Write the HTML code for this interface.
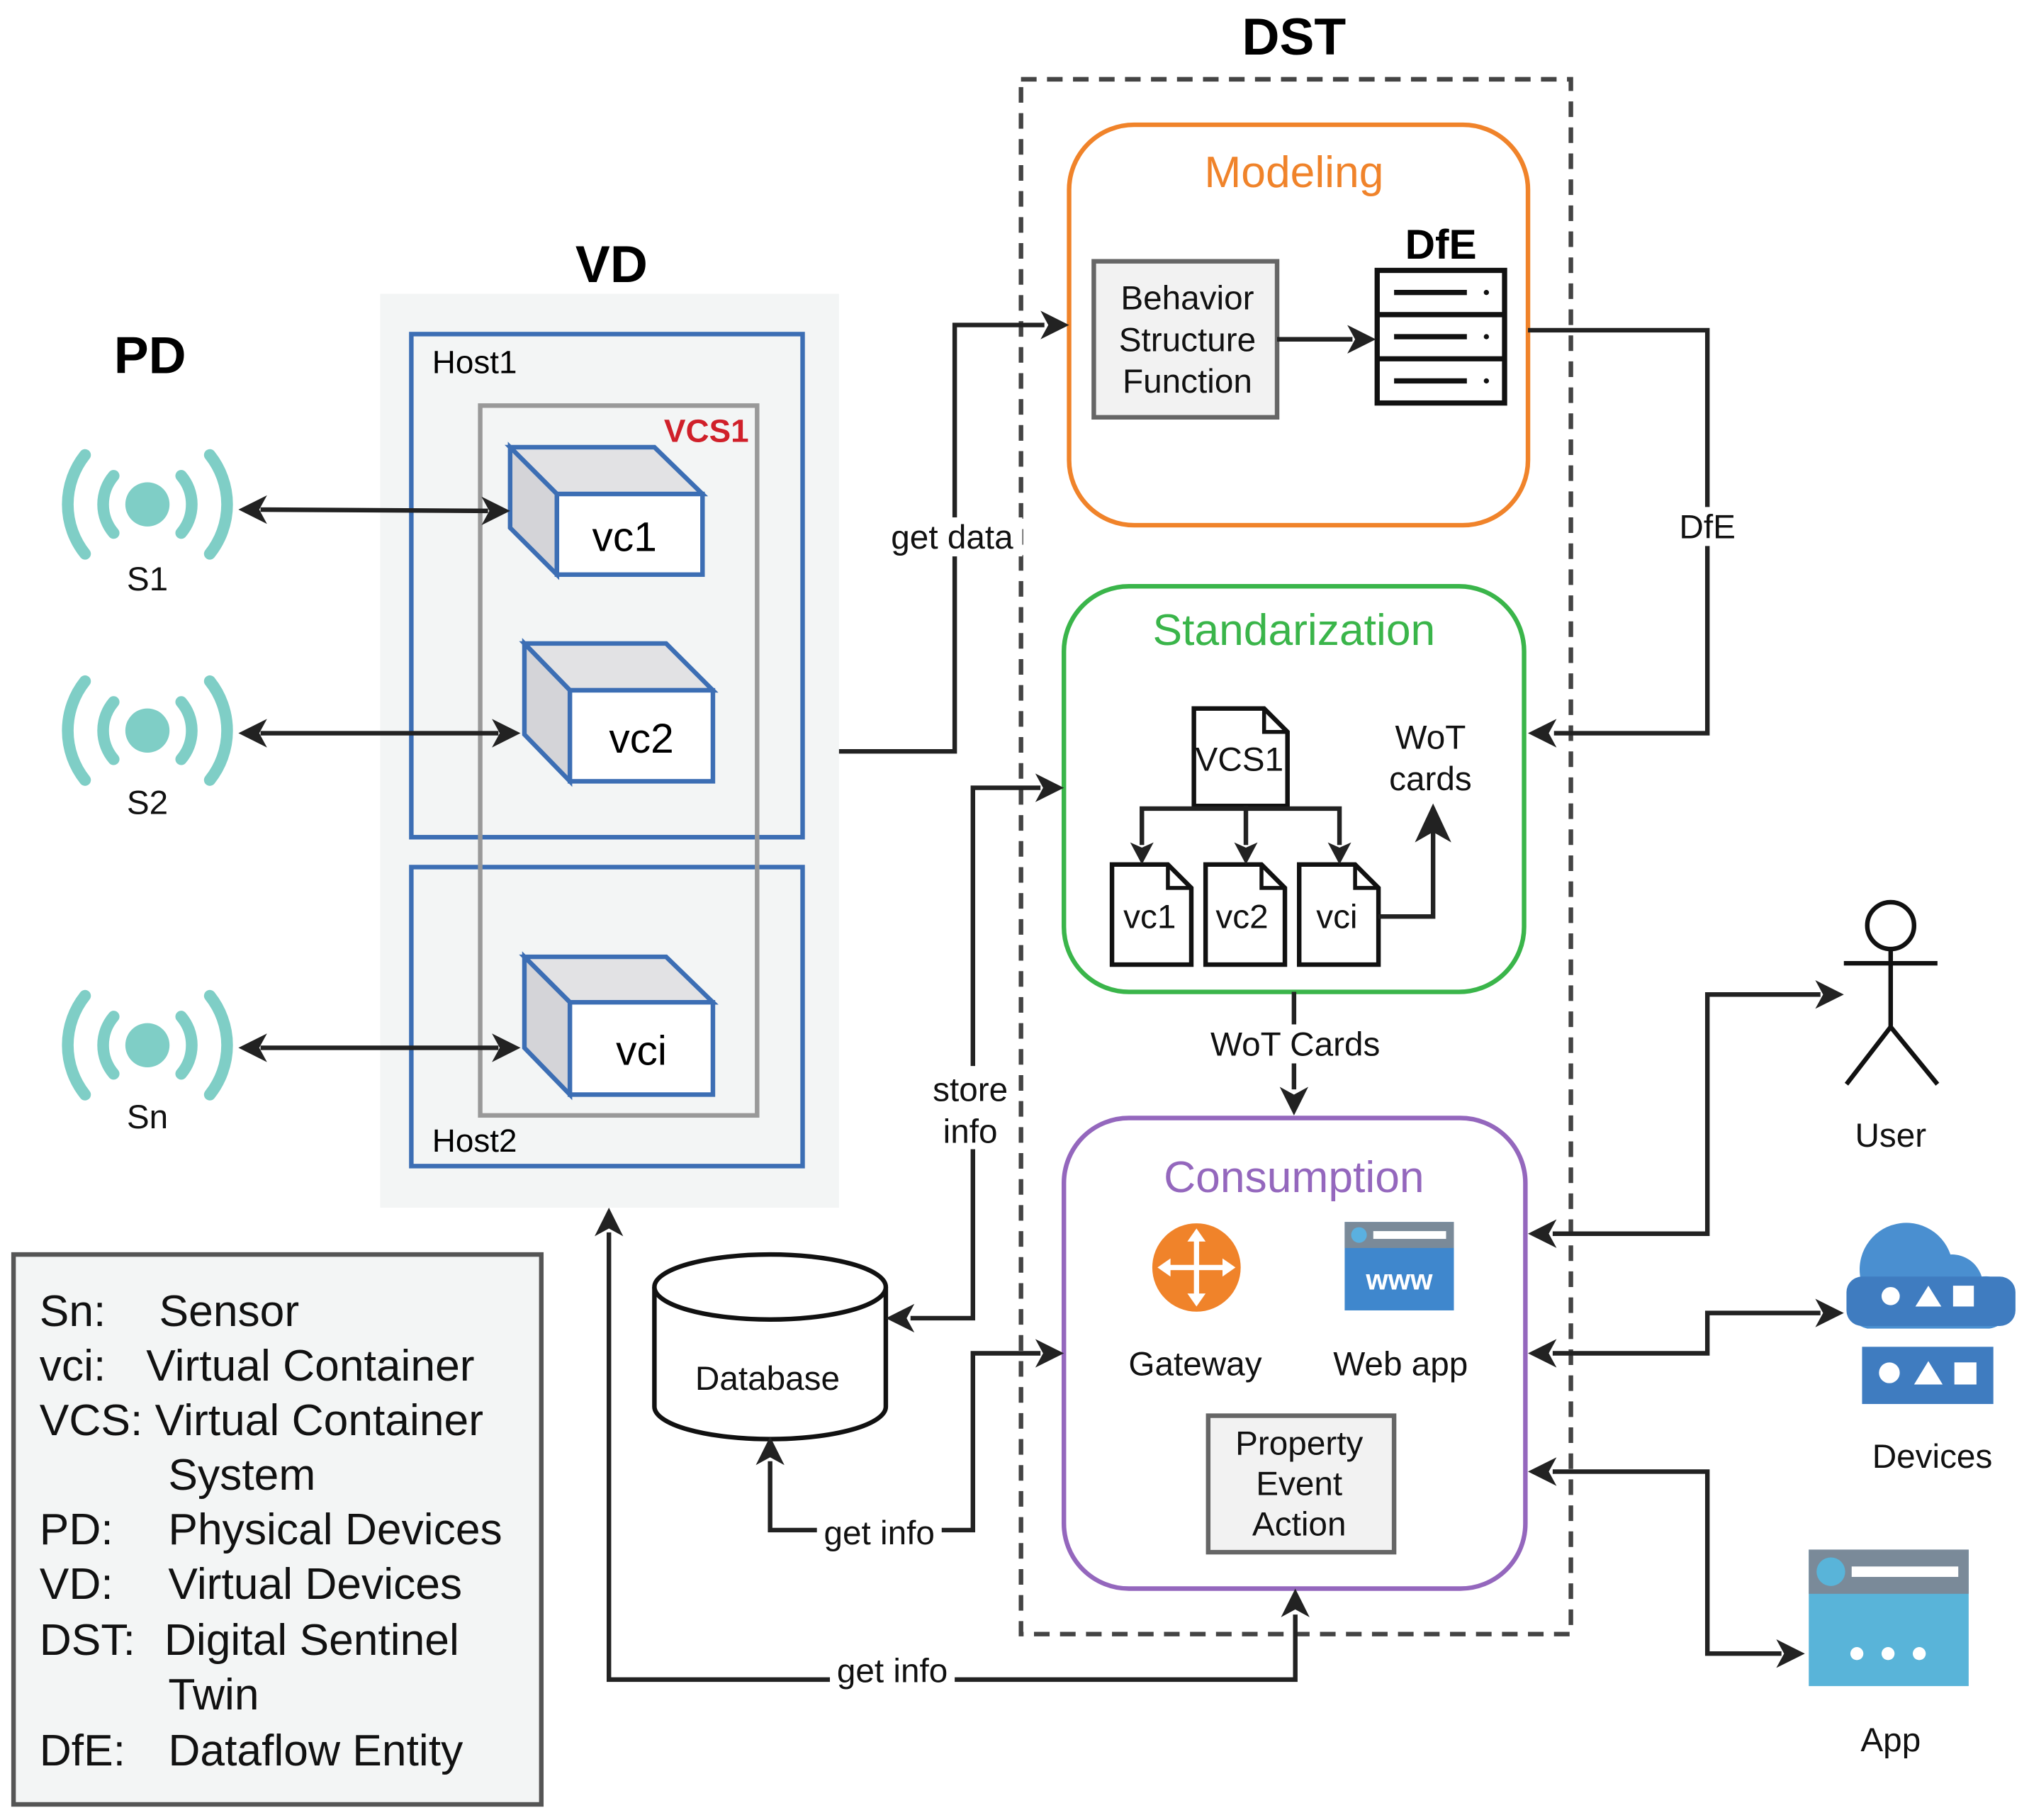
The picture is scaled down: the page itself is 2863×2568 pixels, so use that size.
<!DOCTYPE html>
<html><head><meta charset="utf-8"><style>
html,body{margin:0;padding:0;background:#fff;}
svg{display:block;}
text{font-family:"Liberation Sans",sans-serif;}
</style></head><body>
<svg width="2863" height="2568" viewBox="0 0 1560 1400" xmlns="http://www.w3.org/2000/svg">
<defs>
<g id="s">
<circle cx="0" cy="0" r="17" fill="#7fcec6"/>
<g fill="none" stroke="#7fcec6" stroke-width="9" stroke-linecap="round">
<path d="M-26,-22 A34,34 0 0 0 -26,22"/><path d="M26,-22 A34,34 0 0 1 26,22"/>
<path d="M-48,-38 A61,61 0 0 0 -48,38"/><path d="M48,-38 A61,61 0 0 1 48,38"/>
</g></g>
</defs>
<style>
.ln{fill:none;stroke:#222;stroke-width:3.5;}
.t{font-size:26px;fill:#111;text-anchor:middle;}
</style>
<rect width="1560" height="1400" fill="#fff"/>

<!-- DST -->
<text x="995" y="42" font-size="40" font-weight="bold" text-anchor="middle">DST</text>
<rect x="785" y="61" width="423" height="1196" fill="none" stroke="#444" stroke-width="3.5" stroke-dasharray="12,8"/>

<!-- Modeling -->
<rect x="822" y="96" width="353" height="308" rx="50" fill="#fff" stroke="#f0832a" stroke-width="3.5"/>
<text x="995" y="144" font-size="34" fill="#f0832a" text-anchor="middle">Modeling</text>
<rect x="841" y="201" width="141" height="120" fill="#f2f2f2" stroke="#666" stroke-width="3.5"/>
<text class="t" x="913" y="238">Behavior</text>
<text class="t" x="913" y="270">Structure</text>
<text class="t" x="913" y="302">Function</text>
<text x="1108" y="199" font-size="32" font-weight="bold" text-anchor="middle">DfE</text>
<rect x="1059" y="208" width="98" height="102" fill="#fff" stroke="#111" stroke-width="4"/>
<line x1="1059" y1="242" x2="1157" y2="242" stroke="#111" stroke-width="4"/>
<line x1="1059" y1="276" x2="1157" y2="276" stroke="#111" stroke-width="4"/>
<line x1="1072" y1="225" x2="1128" y2="225" stroke="#111" stroke-width="4"/>
<line x1="1072" y1="259" x2="1128" y2="259" stroke="#111" stroke-width="4"/>
<line x1="1072" y1="293" x2="1128" y2="293" stroke="#111" stroke-width="4"/>
<circle cx="1143" cy="225" r="2" fill="#111"/><circle cx="1143" cy="259" r="2" fill="#111"/><circle cx="1143" cy="293" r="2" fill="#111"/>
<line class="ln" x1="982" y1="261" x2="1040" y2="261"/>
<polygon points="1058,261 1036,250 1042,261 1036,272" fill="#222"/>

<!-- DfE connector -->
<polyline class="ln" points="1175,254 1313,254 1313,564 1195,564"/>
<polygon points="1175,564 1197,553 1191,564 1197,575" fill="#222"/>
<rect x="1288" y="390" width="50" height="30" fill="#fff"/>
<text class="t" x="1313" y="414">DfE</text>

<!-- Standardization -->
<rect x="818" y="451" width="354" height="312" rx="50" fill="#fff" stroke="#3ab54a" stroke-width="3.5"/>
<text x="995" y="496" font-size="34" fill="#3ab54a" text-anchor="middle">Standarization</text>
<g fill="#fff" stroke="#111" stroke-width="3.5">
<path d="M918,545 H972 L990,563 V620 H918 Z"/>
<path d="M855,665 H898 L916,683 V742 H855 Z"/>
<path d="M927,665 H970 L988,683 V742 H927 Z"/>
<path d="M999,665 H1042 L1060,683 V742 H999 Z"/>
</g>
<g fill="none" stroke="#111" stroke-width="3"><path d="M972,545 V563 H990"/><path d="M898,665 V683 H916"/><path d="M970,665 V683 H988"/><path d="M1042,665 V683 H1060"/></g>
<text class="t" x="953" y="593">VCS1</text>
<text class="t" x="884" y="714">vc1</text>
<text class="t" x="955" y="714">vc2</text>
<text class="t" x="1028" y="714">vci</text>
<polyline class="ln" points="878,650 878,622 1030,622 1030,650"/>
<line class="ln" x1="958" y1="620" x2="958" y2="650"/>
<polygon points="878,665 869,648 878,652 887,648" fill="#222"/>
<polygon points="958,665 949,648 958,652 967,648" fill="#222"/>
<polygon points="1030,665 1021,648 1030,652 1039,648" fill="#222"/>
<text class="t" x="1100" y="576">WoT</text>
<text class="t" x="1100" y="608">cards</text>
<polyline class="ln" points="1060,705 1102,705 1102,640"/>
<polygon points="1102,618 1088,648 1102,640 1116,648" fill="#222"/>

<!-- WoT Cards -->
<line class="ln" x1="995" y1="763" x2="995" y2="838"/>
<polygon points="995,858 984,836 995,842 1006,836" fill="#222"/>
<rect x="925" y="788" width="142" height="30" fill="#fff"/>
<text class="t" x="996" y="812">WoT Cards</text>

<!-- Consumption -->
<rect x="818" y="860" width="355" height="362" rx="50" fill="#fff" stroke="#9467bd" stroke-width="3.5"/>
<text x="995" y="917" font-size="34" fill="#9467bd" text-anchor="middle">Consumption</text>
<circle cx="920" cy="975" r="34" fill="#f0832a"/>
<g stroke="#fff" stroke-width="4" fill="#fff">
<line x1="920" y1="950" x2="920" y2="1000"/><line x1="895" y1="975" x2="945" y2="975"/>
<polygon points="920,945 913,955 927,955" stroke="none"/><polygon points="920,1005 913,995 927,995" stroke="none"/>
<polygon points="890,975 900,968 900,982" stroke="none"/><polygon points="950,975 940,968 940,982" stroke="none"/>
</g>
<text class="t" x="919" y="1058">Gateway</text>
<rect x="1034" y="940" width="84" height="68" fill="#3f87cd"/>
<rect x="1034" y="940" width="84" height="20" fill="#7a8a99"/>
<circle cx="1045" cy="950" r="6" fill="#5ab0e0"/>
<rect x="1056" y="947" width="56" height="6" fill="#fff"/>
<text x="1076" y="992" font-size="22" font-weight="bold" fill="#fff" text-anchor="middle">www</text>
<text class="t" x="1077" y="1058">Web app</text>
<rect x="929" y="1089" width="143" height="105" fill="#f2f2f2" stroke="#666" stroke-width="3.5"/>
<text class="t" x="999" y="1119">Property</text>
<text class="t" x="999" y="1150">Event</text>
<text class="t" x="999" y="1181">Action</text>

<!-- VD -->
<text x="470" y="217" font-size="40" font-weight="bold" text-anchor="middle">VD</text>
<rect x="292" y="226" width="353" height="703" fill="#f3f5f5"/>
<rect x="316" y="257" width="301" height="387" fill="none" stroke="#3c6eb4" stroke-width="3.5"/>
<text x="332" y="287" font-size="25">Host1</text>
<rect x="316" y="667" width="301" height="230" fill="none" stroke="#3c6eb4" stroke-width="3.5"/>
<text x="332" y="886" font-size="25">Host2</text>
<rect x="369" y="312" width="213" height="546" fill="none" stroke="#999" stroke-width="3.5"/>
<text x="543" y="340" font-size="25" font-weight="bold" fill="#d0202a" text-anchor="middle">VCS1</text>
<g stroke="#3c6eb4" stroke-width="3.5">
<g><polygon points="392,344 503,344 540,380 428,380" fill="#e2e2e4"/><polygon points="392,344 428,380 428,442 392,406" fill="#d4d4d8"/><rect x="428" y="380" width="112" height="62" fill="#fff"/></g>
<g><polygon points="403,495 512,495 548,531 438,531" fill="#e2e2e4"/><polygon points="403,495 438,531 438,601 403,565" fill="#d4d4d8"/><rect x="438" y="531" width="110" height="70" fill="#fff"/></g>
<g><polygon points="403,736 512,736 548,771 438,771" fill="#e2e2e4"/><polygon points="403,736 438,771 438,842 403,806" fill="#d4d4d8"/><rect x="438" y="771" width="110" height="71" fill="#fff"/></g>
</g>
<text x="480" y="424" font-size="32" text-anchor="middle">vc1</text>
<text x="493" y="579" font-size="32" text-anchor="middle">vc2</text>
<text x="493" y="819" font-size="32" text-anchor="middle">vci</text>

<!-- PD -->
<text x="115" y="287" font-size="40" font-weight="bold" text-anchor="middle">PD</text>
<use href="#s" x="113" y="388"/>
<use href="#s" x="113" y="562"/>
<use href="#s" x="113" y="804"/>
<text class="t" x="113" y="454">S1</text>
<text class="t" x="113" y="626">S2</text>
<text class="t" x="113" y="868">Sn</text>
<g>
<line class="ln" x1="200" y1="392" x2="375" y2="393"/>
<polygon points="183,392 205,381 199,392 205,403" fill="#222"/><polygon points="392,393 370,382 376,393 370,404" fill="#222"/>
<line class="ln" x1="200" y1="564" x2="383" y2="564"/>
<polygon points="183,564 205,553 199,564 205,575" fill="#222"/><polygon points="400,564 378,553 384,564 378,575" fill="#222"/>
<line class="ln" x1="200" y1="806" x2="383" y2="806"/>
<polygon points="183,806 205,795 199,806 205,817" fill="#222"/><polygon points="400,806 378,795 384,806 378,817" fill="#222"/>
</g>

<!-- get data -->
<polyline class="ln" points="645,578 734,578 734,250 803,250"/>
<polygon points="822,250 800,239 806,250 800,261" fill="#222"/>
<rect x="680" y="398" width="106" height="30" fill="#fff"/>
<text class="t" x="732" y="422">get data</text>

<!-- Database -->
<path d="M503,990 V1082 A89,25 0 0 0 681,1082 V990" fill="#fff" stroke="#111" stroke-width="3.5"/>
<ellipse cx="592" cy="990" rx="89" ry="25" fill="#fff" stroke="#111" stroke-width="3.5"/>
<text class="t" x="590" y="1069">Database</text>

<!-- store info -->
<polyline class="ln" points="800,606 748,606 748,1014 700,1014"/>
<polygon points="818,606 796,595 802,606 796,617" fill="#222"/>
<polygon points="681,1014 703,1003 697,1014 703,1025" fill="#222"/>
<rect x="712" y="820" width="70" height="64" fill="#fff"/>
<text class="t" x="746" y="847">store</text>
<text class="t" x="746" y="879">info</text>

<!-- get info DB -->
<polyline class="ln" points="592,1124 592,1177 748,1177 748,1041 800,1041"/>
<polygon points="592,1105 581,1127 592,1121 603,1127" fill="#222"/>
<polygon points="818,1041 796,1030 802,1041 796,1052" fill="#222"/>
<rect x="628" y="1163" width="96" height="30" fill="#fff"/>
<text class="t" x="676" y="1188">get info</text>

<!-- bottom get info -->
<polyline class="ln" points="468,948 468,1292 996,1292 996,1242"/>
<polygon points="468,929 457,951 468,945 479,951" fill="#222"/>
<polygon points="996,1222 985,1244 996,1238 1007,1244" fill="#222"/>
<rect x="638" y="1270" width="96" height="30" fill="#fff"/>
<text class="t" x="686" y="1294">get info</text>

<!-- User -->
<g fill="none" stroke="#111" stroke-width="3.5">
<circle cx="1454" cy="712" r="18"/>
<line x1="1454" y1="730" x2="1454" y2="790"/>
<line x1="1418" y1="741" x2="1490" y2="741"/>
<polyline points="1420,834 1454,790 1490,834"/>
</g>
<text class="t" x="1454" y="882">User</text>
<polyline class="ln" points="1194,949 1313,949 1313,765 1400,765"/>
<polygon points="1175,949 1197,938 1191,949 1197,960" fill="#222"/>
<polygon points="1418,765 1396,754 1402,765 1396,776" fill="#222"/>

<!-- Devices -->
<path d="M1436,1022 A18,18 0 0 1 1432,988 A34,34 0 0 1 1500,965 A24,24 0 0 1 1524,982 A20,20 0 0 1 1530,1022 Z" fill="#4a8fd0"/>
<rect x="1420" y="982" width="130" height="38" rx="12" fill="#3f7cc0"/>
<circle cx="1454" cy="997" r="7" fill="#fff"/><polygon points="1473,1005 1483,989 1493,1005" fill="#fff"/><rect x="1502" y="989" width="16" height="16" fill="#fff"/>
<rect x="1432" y="1036" width="101" height="44" fill="#3f7cc0"/>
<circle cx="1453" cy="1056" r="8" fill="#fff"/><polygon points="1472,1065 1483,1047 1494,1065" fill="#fff"/><rect x="1503" y="1048" width="17" height="17" fill="#fff"/>
<text class="t" x="1486" y="1129">Devices</text>
<polyline class="ln" points="1194,1041 1313,1041 1313,1010 1400,1010"/>
<polygon points="1175,1041 1197,1030 1191,1041 1197,1052" fill="#222"/>
<polygon points="1418,1010 1396,999 1402,1010 1396,1021" fill="#222"/>

<!-- App -->
<rect x="1391" y="1192" width="123" height="105" fill="#59b4d9"/>
<rect x="1391" y="1192" width="123" height="34" fill="#7a8a99"/>
<circle cx="1408" cy="1209" r="11" fill="#59b4d9"/>
<rect x="1424" y="1205" width="82" height="8" fill="#fff"/>
<circle cx="1428" cy="1272" r="5" fill="#fff"/><circle cx="1452" cy="1272" r="5" fill="#fff"/><circle cx="1476" cy="1272" r="5" fill="#fff"/>
<text class="t" x="1454" y="1347">App</text>
<polyline class="ln" points="1194,1132 1313,1132 1313,1272 1370,1272"/>
<polygon points="1175,1132 1197,1121 1191,1132 1197,1143" fill="#222"/>
<polygon points="1388,1272 1366,1261 1372,1272 1366,1283" fill="#222"/>

<!-- Legend -->
<rect x="10" y="965" width="406" height="423" fill="#f3f5f5" stroke="#555" stroke-width="3.5"/>
<g font-size="34" fill="#111">
<text x="30" y="1020">Sn:</text><text x="122" y="1020">Sensor</text>
<text x="30" y="1062">vci:</text><text x="112" y="1062">Virtual Container</text>
<text x="30" y="1104">VCS: Virtual Container</text>
<text x="129" y="1146">System</text>
<text x="30" y="1188">PD:</text><text x="129" y="1188">Physical Devices</text>
<text x="30" y="1230">VD:</text><text x="129" y="1230">Virtual Devices</text>
<text x="30" y="1273">DST:</text><text x="126" y="1273">Digital Sentinel</text>
<text x="129" y="1315">Twin</text>
<text x="30" y="1358">DfE:</text><text x="129" y="1358">Dataflow Entity</text>
</g>
</svg>
</body></html>
